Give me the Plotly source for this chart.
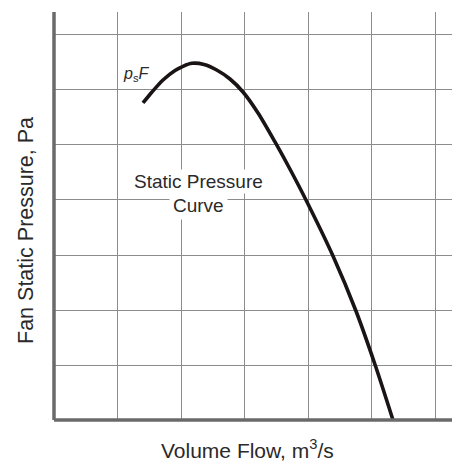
import plotly.graph_objects as go

# Curve samples (volume flow, static pressure) in grid units
flow = [1.399, 1.541, 1.714, 1.903, 2.028, 2.170, 2.358, 2.558, 2.767, 2.972,
        3.208, 3.475, 3.726, 3.978, 4.387, 4.748, 5.055, 5.330]
pressure = [5.764, 5.964, 6.182, 6.355, 6.431, 6.485, 6.464, 6.364, 6.200, 5.964,
            5.582, 5.055, 4.527, 3.964, 2.982, 1.982, 0.982, 0.0]

x_title = "Volume Flow, m<sup>3</sup>/s"
y_title = "Fan Static Pressure, Pa"
curve_label_1 = "Static Pressure"
curve_label_2 = "Curve"
point_label = "<i>p</i><sub>s</sub><i>F</i>"

X_MAX = 6.258
Y_MAX = 7.418
FONT = "Liberation Sans, Arial, sans-serif"
TXT = "#2a2a2a"
GRID = "#8c8c8c"
AXIS = "#6a6a6a"

fig = go.Figure()
fig.add_trace(go.Scatter(
    x=flow, y=pressure, mode="lines",
    line=dict(color="#1a1414", width=3.6, shape="spline", smoothing=0.8),
    hoverinfo="skip", showlegend=False,
))

fig.update_layout(
    width=457, height=462,
    margin=dict(l=54, r=5, t=12, b=42),
    paper_bgcolor="white", plot_bgcolor="white",
    showlegend=False,
    xaxis=dict(range=[0, X_MAX], dtick=1, tick0=0, showticklabels=False,
               ticks="", showgrid=True, gridcolor=GRID, gridwidth=1.4,
               zeroline=False, showline=False, fixedrange=True),
    yaxis=dict(range=[0, Y_MAX], dtick=1, tick0=0, showticklabels=False,
               ticks="", showgrid=True, gridcolor=GRID, gridwidth=1.4,
               zeroline=False, showline=False, fixedrange=True),
    shapes=[
        dict(type="line", xref="paper", yref="paper", x0=0, x1=0, y0=0, y1=1,
             line=dict(color=AXIS, width=3.5)),
        dict(type="line", xref="paper", yref="paper", x0=0, x1=1, y0=0, y1=0,
             line=dict(color=AXIS, width=3.5)),
    ],
    annotations=[
        dict(text=x_title, xref="paper", yref="paper", x=0.485, y=-0.0711,
             showarrow=False, font=dict(family=FONT, size=21, color=TXT),
             xanchor="center", yanchor="middle"),
        dict(text=y_title, xref="paper", yref="paper", x=-0.0704, y=0.4657,
             showarrow=False, textangle=-90,
             font=dict(family=FONT, size=21.5, color=TXT),
             xanchor="center", yanchor="middle"),
        dict(text=curve_label_1, xref="paper", yref="paper",
             x=(198 - 54) / 398, y=(420 - 181.5) / 408,
             showarrow=False, bgcolor="white", borderpad=1,
             font=dict(family=FONT, size=19, color=TXT),
             xanchor="center", yanchor="middle"),
        dict(text=curve_label_2, xref="paper", yref="paper",
             x=(198 - 54) / 398, y=(420 - 205.5) / 408,
             showarrow=False, bgcolor="white", borderpad=3,
             font=dict(family=FONT, size=19, color=TXT),
             xanchor="center", yanchor="middle"),
        dict(text=point_label, xref="paper", yref="paper",
             x=(136 - 54) / 398, y=(420 - 74) / 408,
             showarrow=False,
             font=dict(family=FONT, size=16, color=TXT),
             xanchor="center", yanchor="middle"),
    ],
)

fig.write_html("out.html")
